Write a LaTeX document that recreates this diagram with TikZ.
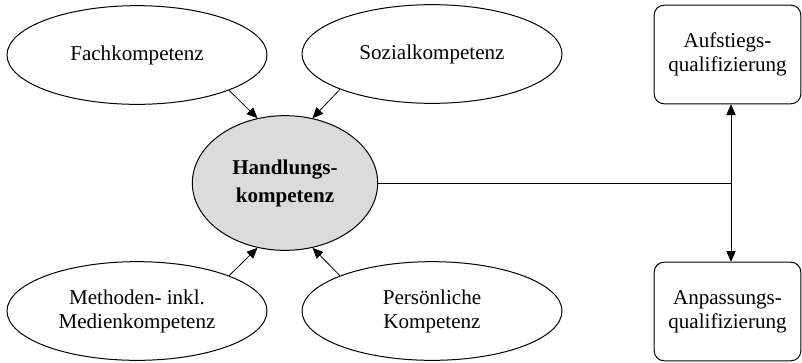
\documentclass[tikz,border=0pt]{standalone}
\usepackage{fontspec}
\setmainfont{Liberation Serif}
\usetikzlibrary{shapes.geometric,arrows.meta}
\begin{document}
\begin{tikzpicture}[x=0.75pt,y=-0.75pt,
  every node/.style={font=\fontsize{15.8}{18}\selectfont, align=center, inner sep=0pt},
  comp/.style={ellipse, draw, line width=0.75pt, minimum width=195pt, minimum height=74pt},
  core/.style={ellipse, draw, line width=0.75pt, fill=black!14, minimum width=139pt, minimum height=101pt,
    font=\fontsize{15.8}{21}\selectfont\bfseries},
  qual/.style={rectangle, rounded corners=7.5pt, draw, line width=0.75pt, minimum width=110pt, minimum height=74pt},
  arr/.style={line width=0.6pt, -{Triangle[length=8pt,width=7pt]}},
  link/.style={line width=0.75pt}]
  \useasboundingbox (0,0) rectangle (802,362);
  % competence areas
  \node[comp] (fach) at (137,55) {Fachkompetenz};
  \node[comp] (sozial) at (432,54) {Sozialkompetenz};
  \node[comp] (methoden) at (137,311) {Methoden- inkl.\\Medienkompetenz};
  \node[comp] (person) at (432,311) {Persönliche\\Kompetenz};
  % central competence
  \node[core] (hk) at (285,183) {Handlungs-\\kompetenz};
  % qualification paths
  \node[qual] (aufstieg) at (727.5,54.5) {Aufstiegs-\\qualifizierung};
  \node[qual] (anpassung) at (727.5,311.5) {Anpassungs-\\qualifizierung};
  \coordinate (j) at (731,183);
  % inflows into the central competence
  \draw[arr] (fach.-21) -- (hk.113);
  \draw[arr] (sozial.-159) -- (hk.67);
  \draw[arr] (methoden.21) -- (hk.-113);
  \draw[arr] (person.159) -- (hk.-67);
  % branching towards the qualifications
  \draw[link] (hk.east) -- (j);
  \draw[arr] (j) -- (j |- aufstieg.south);
  \draw[arr] (j) -- (j |- anpassung.north);
\end{tikzpicture}
\end{document}
